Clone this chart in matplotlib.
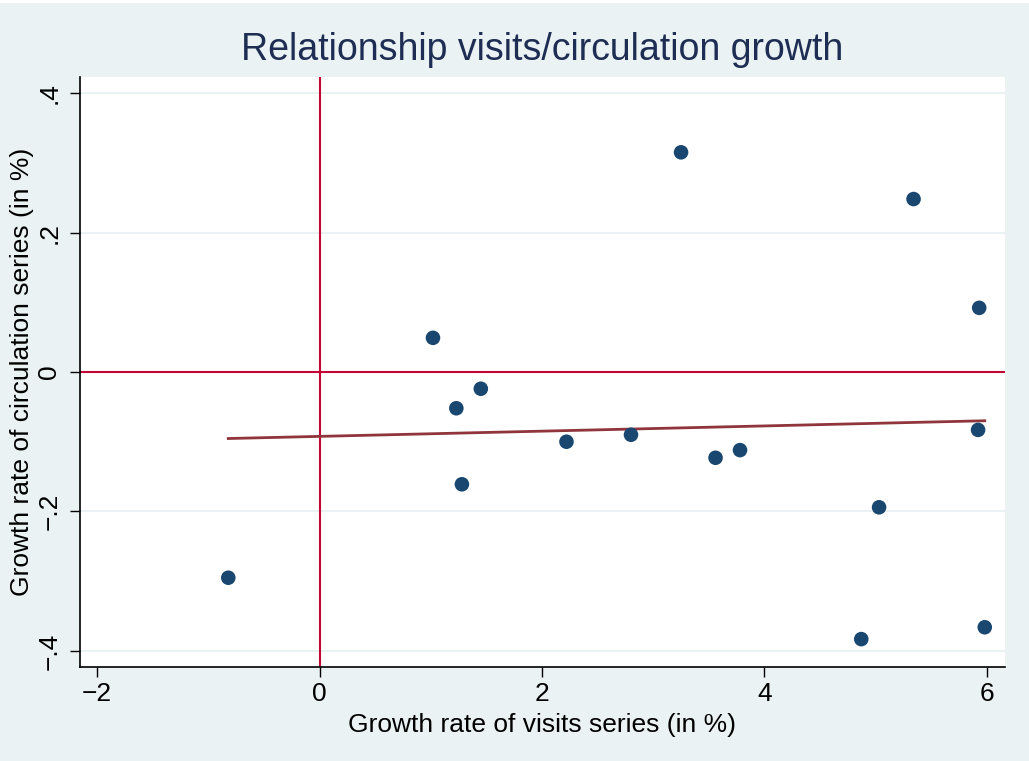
import numpy as np
import matplotlib.pyplot as plt
from matplotlib.patches import Rectangle

# growth rates (in %)
visits_growth = [-0.82, 1.02, 1.23, 1.28, 1.45, 2.22, 2.80, 3.25,
                 3.56, 3.78, 4.87, 5.03, 5.34, 5.92, 5.93, 5.98]
circ_growth = [-0.295, 0.049, -0.052, -0.161, -0.024, -0.100, -0.090, 0.315,
               -0.123, -0.112, -0.383, -0.194, 0.248, -0.083, 0.092, -0.366]

xticks = [-2, 0, 2, 4, 6]
yticks = [-0.4, -0.2, 0, 0.2, 0.4]
ytick_labels = ['\u2212.4', '\u2212.2', '0', '.2', '.4']
xtick_labels = ['\u22122', '0', '2', '4', '6']

bg = '#EAF2F3'
navy = '#1A476F'
red = '#C10534'
maroon = '#90353B'

plt.rcParams['font.family'] = ['Liberation Sans', 'DejaVu Sans']

fig = plt.figure(figsize=(10.29, 7.61), dpi=100)
fig.patch.set_facecolor('white')
fig.add_artist(Rectangle((0, 0), 1, 1 - 3 / 761, transform=fig.transFigure,
                         facecolor=bg, edgecolor='none', zorder=-10))

ax = fig.add_axes([80 / 1029, 1 - 667 / 761, 925 / 1029, 590 / 761])
ax.set_facecolor('white')

x = np.array(visits_growth)
y = np.array(circ_growth)

# linear fit over the observed range
b, a = np.polyfit(x, y, 1)
xf = np.array([x.min(), x.max()])
ax.plot(xf, a + b * xf, color=maroon, lw=2.0, zorder=3)

ax.axhline(0, color=red, lw=1.5, zorder=2)
ax.axvline(0, color=red, lw=1.5, zorder=2)
ax.scatter(x, y, s=110, color=navy, edgecolors='none', zorder=4)

ax.set_xlim(-2.153, 6.162)
ax.set_ylim(-0.423, 0.423)
ax.set_xticks(xticks)
ax.set_xticklabels(xtick_labels)
ax.set_yticks(yticks)
ax.set_yticklabels(ytick_labels, rotation=90, va='center')

for v in yticks:
    ax.axhline(v, color=bg, lw=1.5, zorder=1)

for s in ['top', 'right']:
    ax.spines[s].set_visible(False)
for s in ['left', 'bottom']:
    ax.spines[s].set_color('black')
    ax.spines[s].set_linewidth(1.2)

ax.tick_params(axis='both', direction='out', length=7.5, width=1.0,
               labelsize=19, colors='black')
ax.tick_params(axis='x', pad=3)
ax.tick_params(axis='y', pad=6)

ax.set_xlabel('Growth rate of visits series (in %)', fontsize=19, labelpad=5)
ax.set_ylabel('Growth rate of circulation series (in %)', fontsize=19, labelpad=2)
ax.set_title('Relationship visits/circulation growth', fontsize=27,
             color='#1E2D53', pad=12)

fig.savefig('out.png', dpi=100, facecolor=fig.get_facecolor())
